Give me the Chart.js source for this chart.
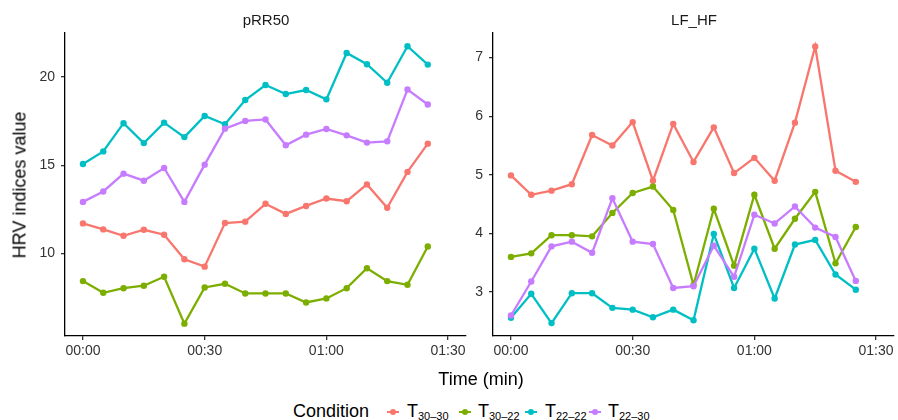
<!DOCTYPE html>
<html>
<head>
<meta charset="utf-8">
<script src="https://cdn.jsdelivr.net/npm/chart.js@4.4.0/dist/chart.umd.min.js"></script>
<style>
  body { margin: 0; background: #fff; font-family: "Liberation Sans", Arial, sans-serif; }
  #wrap { position: relative; width: 898px; height: 420px; overflow: hidden; }
  canvas { position: absolute; top: 0; }
  .ptitle { position: absolute; top: 11px; font-size: 15px; color: #1a1a1a; transform: translateX(-50%); white-space: nowrap; }
  .atitle { position: absolute; font-size: 18px; color: #000; white-space: nowrap; }
  #ytitle { left: 20px; top: 185px; transform: translate(-50%, -50%) rotate(-90deg); }
  #xtitle { left: 481px; top: 379px; transform: translate(-50%, -50%); }
  .leg { position: absolute; top: 411px; transform: translateY(-50%); font-size: 18px; color: #000; white-space: nowrap; }
  .leg sub { font-size: 11px; vertical-align: -3px; }
  .key { position: absolute; top: 412px; width: 12px; height: 12px; transform: translate(-50%, -50%); }
  .key .ln { position: absolute; left: 0; top: 5px; width: 12px; height: 2px; }
  .key .dt { position: absolute; left: 3px; top: 3px; width: 6px; height: 6px; border-radius: 50%; }
</style>
</head>
<body>
<div id="wrap">
  <canvas id="chartLeft" width="470" height="366" style="left:0px"></canvas>
  <canvas id="chartRight" width="458" height="366" style="left:440px"></canvas>
  <div class="ptitle" style="left:266px">pRR50</div>
  <div class="ptitle" style="left:694px">LF_HF</div>
  <div class="atitle" id="ytitle">HRV indices value</div>
  <div class="atitle" id="xtitle">Time (min)</div>
  <div id="legend"></div>
</div>

<script>
// time in minutes
var timeMinutes = [0, 5, 10, 15, 20, 25, 30, 35, 40, 45, 50, 55, 60, 65, 70, 75, 80, 85];
var xTicks = [0, 30, 60, 90];

var conditions = ['30\u201330', '30\u201322', '22\u201322', '22\u201330'];
var colors = ['#F8766D', '#7CAE00', '#00BFC4', '#C77CFF'];

// pRR50
var prr50_T3030 = [11.71, 11.37, 11.01, 11.35, 11.07, 9.68, 9.26, 11.73, 11.81, 12.82, 12.25, 12.70, 13.12, 12.97, 13.92, 12.60, 14.63, 16.23];
var prr50_T3022 = [8.44, 7.78, 8.04, 8.18, 8.69, 6.03, 8.08, 8.29, 7.74, 7.74, 7.74, 7.23, 7.46, 8.04, 9.17, 8.44, 8.23, 10.40];
var prr50_T2222 = [15.08, 15.79, 17.39, 16.26, 17.42, 16.60, 17.80, 17.33, 18.70, 19.55, 19.04, 19.27, 18.74, 21.37, 20.73, 19.68, 21.75, 20.71];
var prr50_T2230 = [12.93, 13.52, 14.53, 14.13, 14.85, 12.93, 15.04, 17.08, 17.52, 17.60, 16.14, 16.74, 17.06, 16.70, 16.29, 16.36, 19.30, 18.45];
var prr50Ticks = [10, 15, 20];

// LF_HF
var lfhf_T3030 = [4.99, 4.66, 4.73, 4.84, 5.68, 5.50, 5.90, 4.90, 5.87, 5.22, 5.81, 5.03, 5.29, 4.90, 5.89, 7.19, 5.07, 4.88];
var lfhf_T3022 = [3.60, 3.66, 3.97, 3.97, 3.95, 4.35, 4.69, 4.80, 4.40, 3.12, 4.42, 3.45, 4.66, 3.74, 4.25, 4.71, 3.49, 4.11];
var lfhf_T2222 = [2.56, 2.97, 2.47, 2.98, 2.98, 2.73, 2.70, 2.57, 2.70, 2.52, 3.99, 3.07, 3.74, 2.89, 3.81, 3.89, 3.30, 3.04];
var lfhf_T2230 = [2.60, 3.18, 3.78, 3.86, 3.67, 4.60, 3.86, 3.82, 3.07, 3.10, 3.79, 3.26, 4.32, 4.17, 4.46, 4.10, 3.94, 3.19];
var lfhfTicks = [3, 4, 5, 6, 7];

function fmtTime(v) {
  var h = Math.floor(v / 60), m = v % 60;
  return (h < 10 ? '0' : '') + h + ':' + (m < 10 ? '0' : '') + m;
}

function makeDatasets(seriesList) {
  return seriesList.map(function (s, i) {
    return {
      label: 'T' + conditions[i],
      data: s.map(function (v, j) { return { x: timeMinutes[j], y: v }; }),
      borderColor: colors[i],
      backgroundColor: colors[i],
      borderWidth: 2.3,
      pointRadius: 3.2,
      pointBorderWidth: 0,
      tension: 0,
      order: 4 - i
    };
  });
}

function createPanel(id, seriesList, yTicks, yMin, yMax, yWidth) {
  var ctx = document.getElementById(id).getContext('2d');
  return new Chart(ctx, {
    type: 'line',
    data: { datasets: makeDatasets(seriesList) },
    options: {
      responsive: false,
      animation: false,
      layout: { padding: { top: 33, right: 3, left: 0, bottom: 0 } },
      plugins: { legend: { display: false }, tooltip: { enabled: false } },
      scales: {
        x: {
          type: 'linear',
          min: -4.43,
          max: 94.42,
          afterBuildTicks: function (scale) { scale.ticks = xTicks.map(function (v) { return { value: v }; }); },
          afterFit: function (scale) { scale.height = 30; },
          ticks: {
            autoSkip: false, maxRotation: 0, padding: 3,
            color: '#333', font: { family: 'Liberation Sans', size: 14 },
            callback: function (v) { return fmtTime(v); }
          },
          grid: { drawOnChartArea: false, drawTicks: true, tickLength: 4, color: '#333', lineWidth: 1.3 },
          border: { display: true, color: '#000', width: 1.3 }
        },
        y: {
          min: yMin,
          max: yMax,
          afterBuildTicks: function (scale) { scale.ticks = yTicks.map(function (v) { return { value: v }; }); },
          afterFit: function (scale) { scale.width = yWidth; },
          ticks: {
            padding: 6,
            color: '#333', font: { family: 'Liberation Sans', size: 14 }
          },
          grid: { drawOnChartArea: false, drawTicks: true, tickLength: 4, color: '#333', lineWidth: 1.3 },
          border: { display: true, color: '#000', width: 1.3 }
        }
      }
    }
  });
}

createPanel('chartLeft', [prr50_T3030, prr50_T3022, prr50_T2222, prr50_T2230], prr50Ticks, 5.33, 22.5, 65);
createPanel('chartRight', [lfhf_T3030, lfhf_T3022, lfhf_T2222, lfhf_T2230], lfhfTicks, 2.25, 7.42, 53);

// legend
var legend = document.getElementById('legend');
var keyX = [393, 465, 531, 595];
var textX = [407, 478, 545, 608];
var cond = document.createElement('div');
cond.className = 'leg';
cond.style.left = '293px';
cond.textContent = 'Condition';
legend.appendChild(cond);
conditions.forEach(function (c, i) {
  var k = document.createElement('div');
  k.className = 'key';
  k.style.left = keyX[i] + 'px';
  k.innerHTML = '<div class="ln" style="background:' + colors[i] + '"></div><div class="dt" style="background:' + colors[i] + '"></div>';
  legend.appendChild(k);
  var t = document.createElement('div');
  t.className = 'leg';
  t.style.left = textX[i] + 'px';
  t.innerHTML = 'T<sub>' + c + '</sub>';
  legend.appendChild(t);
});
</script>
</body>
</html>
